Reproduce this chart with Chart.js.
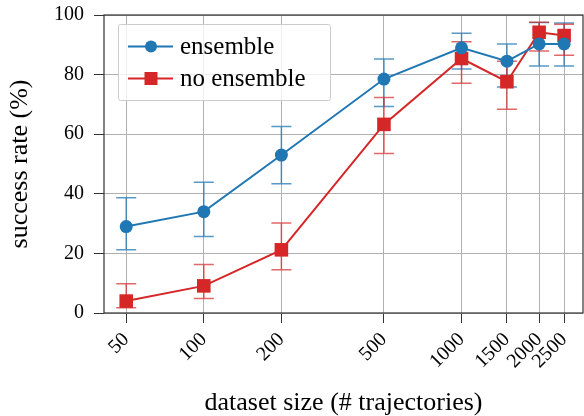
<!DOCTYPE html>
<html>
<head>
<meta charset="utf-8">
<script src="https://cdn.jsdelivr.net/npm/chart.js@4.4.0/dist/chart.umd.min.js"></script>
<style>
  html, body { margin: 0; padding: 0; background: #fff; }
  #wrap { width: 584px; height: 416px; }
</style>
</head>
<body>
<div id="wrap"><canvas id="chart" width="584" height="416"></canvas></div>
<script>
// dataset sizes (# trajectories)
const sizes = [50, 100, 200, 500, 1000, 1500, 2000, 2500];
const yTicks = [0, 20, 40, 60, 80, 100];

// success rate (%) and error bar bounds
const ensemble = [29, 34, 53, 78.5, 89, 84.5, 90.3, 90.3];
const ensembleLow = [21.2, 25.7, 43.4, 69.3, 81.9, 75.8, 82.9, 82.9];
const ensembleHigh = [38.7, 43.9, 62.6, 85.2, 93.9, 90.3, 97.5, 97.3];

const noEnsemble = [4, 9.1, 21.2, 63.3, 85.4, 77.6, 94.2, 93.1];
const noEnsembleLow = [1.8, 4.9, 14.5, 53.5, 77.1, 68.4, 87.9, 86.5];
const noEnsembleHigh = [9.8, 16.3, 30.2, 72.3, 91, 84.5, 97.6, 96.9];

const BLUE = "#1f77b4";
const RED = "#d62728";
const SERIF = "'Liberation Serif', 'DejaVu Serif', serif";

const errors = [
    { low: ensembleLow, high: ensembleHigh, color: "rgba(31,119,180,0.75)" },
    { low: noEnsembleLow, high: noEnsembleHigh, color: "rgba(214,39,40,0.7)" },
];

const errorBarPlugin = {
    id: "errorBars",
    beforeDatasetsDraw(chart) {
        const { ctx, scales } = chart;
        ctx.save();
        ctx.lineWidth = 1.5;
        errors.forEach((e) => {
            ctx.strokeStyle = e.color;
            sizes.forEach((s, i) => {
                const x = scales.x.getPixelForValue(s);
                const y1 = scales.y.getPixelForValue(e.low[i]);
                const y2 = scales.y.getPixelForValue(e.high[i]);
                ctx.beginPath();
                ctx.moveTo(x, y1); ctx.lineTo(x, y2);
                ctx.moveTo(x - 10, y1); ctx.lineTo(x + 10, y1);
                ctx.moveTo(x - 10, y2); ctx.lineTo(x + 10, y2);
                ctx.stroke();
            });
        });
        ctx.restore();
    },
};

const framePlugin = {
    id: "frame",
    afterDraw(chart) {
        const { ctx, chartArea: a } = chart;
        ctx.save();
        ctx.strokeStyle = "#333";
        ctx.lineWidth = 1.2;
        ctx.strokeRect(a.left, a.top, a.right - a.left, a.bottom - a.top);

        // legend box inside the plot
        const bx = 118.5, by = 24.5, bw = 212, bh = 76;
        ctx.fillStyle = "rgba(255,255,255,0.8)";
        ctx.strokeStyle = "#cccccc";
        ctx.lineWidth = 1;
        ctx.beginPath();
        ctx.roundRect(bx, by, bw, bh, 2);
        ctx.fill();
        ctx.stroke();

        const items = [
            { label: "ensemble", color: BLUE, style: "circle" },
            { label: "no ensemble", color: RED, style: "rect" },
        ];
        items.forEach((it, k) => {
            const y = 46.5 + k * 32;
            ctx.strokeStyle = it.color;
            ctx.fillStyle = it.color;
            ctx.lineWidth = 2;
            ctx.beginPath();
            ctx.moveTo(128, y); ctx.lineTo(173, y);
            ctx.stroke();
            if (it.style === "circle") {
                ctx.beginPath();
                ctx.arc(151, y, 6, 0, Math.PI * 2);
                ctx.fill();
            } else {
                ctx.fillRect(144.5, y - 6.5, 13, 13);
            }
            ctx.fillStyle = "#000";
            ctx.font = "25px " + SERIF;
            ctx.textBaseline = "middle";
            ctx.fillText(it.label, 180, y + 1);
        });
        ctx.restore();
    },
};

new Chart(document.getElementById("chart"), {
    type: "line",
    data: {
        datasets: [
            {
                label: "ensemble",
                data: sizes.map((s, i) => ({ x: s, y: ensemble[i] })),
                borderColor: BLUE,
                backgroundColor: BLUE,
                borderWidth: 2,
                pointStyle: "circle",
                pointRadius: 6.5,
                pointBorderWidth: 0,
                tension: 0,
            },
            {
                label: "no ensemble",
                data: sizes.map((s, i) => ({ x: s, y: noEnsemble[i] })),
                borderColor: RED,
                backgroundColor: RED,
                borderWidth: 2,
                pointStyle: "rect",
                pointRadius: 9.6,
                pointBorderWidth: 0,
                tension: 0,
            },
        ],
    },
    options: {
        responsive: false,
        animation: false,
        layout: { autoPadding: false, padding: { top: 15, right: 1, left: 0, bottom: 0 } },
        plugins: {
            legend: { display: false },
            tooltip: { enabled: false },
        },
        scales: {
            x: {
                type: "logarithmic",
                min: 41,
                max: 2960,
                afterBuildTicks: (scale) => {
                    scale.ticks = sizes.map((v) => ({ value: v }));
                },
                afterFit: (scale) => {
                    scale.height = 103;
                    scale.paddingLeft = 0;
                    scale.paddingRight = 0;
                },
                ticks: {
                    callback: (v) => String(v),
                    minRotation: 45,
                    maxRotation: 45,
                    autoSkip: false,
                    color: "#000",
                    padding: 5,
                    font: { family: SERIF, size: 20 },
                },
                grid: { color: "#b0b0b0", lineWidth: 1, tickLength: 10, tickColor: "#333" },
                border: { display: false },
                title: {
                    display: true,
                    text: "dataset size (# trajectories)",
                    color: "#000",
                    font: { family: SERIF, size: 26, lineHeight: 1 },
                    padding: { top: 0, bottom: 0 },
                },
            },
            y: {
                min: 0,
                max: 100,
                afterBuildTicks: (scale) => {
                    scale.ticks = yTicks.map((v) => ({ value: v }));
                },
                afterFit: (scale) => {
                    scale.width = 104;
                    scale.paddingTop = 0;
                    scale.paddingBottom = 0;
                },
                ticks: {
                    color: "#000",
                    padding: 10,
                    font: { family: SERIF, size: 20 },
                },
                grid: { color: "#b0b0b0", lineWidth: 1, tickLength: 10, tickColor: "#333" },
                border: { display: false },
                title: {
                    display: true,
                    text: "success rate (%)",
                    color: "#000",
                    font: { family: SERIF, size: 26, lineHeight: 1 },
                    padding: { top: 7, bottom: 0 },
                },
            },
        },
    },
    plugins: [errorBarPlugin, framePlugin],
});
</script>
</body>
</html>
